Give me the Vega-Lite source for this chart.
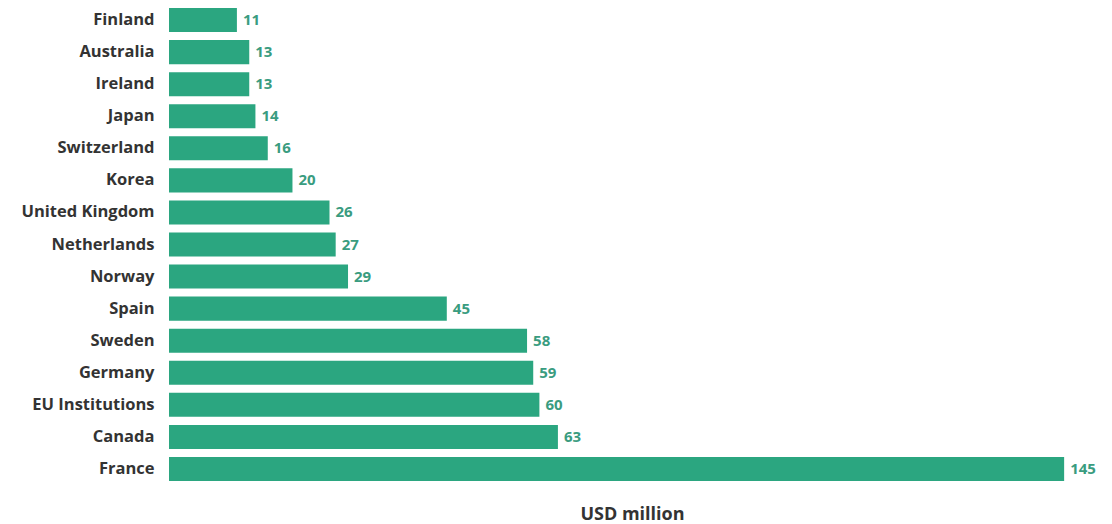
{
  "$schema": "https://vega.github.io/schema/vega-lite/v6.json",
  "autosize": {"type": "none"},
  "padding": {"left": 169, "top": 4, "right": 17, "bottom": 39},
  "width": 926,
  "height": 481,
  "background": "white",
  "config": {"view": {"stroke": null}, "font": "Open Sans"},
  "data": {"values": [
    {"country": "Finland", "value": 11},
    {"country": "Australia", "value": 13},
    {"country": "Ireland", "value": 13},
    {"country": "Japan", "value": 14},
    {"country": "Switzerland", "value": 16},
    {"country": "Korea", "value": 20},
    {"country": "United Kingdom", "value": 26},
    {"country": "Netherlands", "value": 27},
    {"country": "Norway", "value": 29},
    {"country": "Spain", "value": 45},
    {"country": "Sweden", "value": 58},
    {"country": "Germany", "value": 59},
    {"country": "EU Institutions", "value": 60},
    {"country": "Canada", "value": 63},
    {"country": "France", "value": 145}
  ]},
  "encoding": {
    "y": {"field": "country", "type": "nominal", "sort": null,
      "scale": {"paddingInner": 0.25, "paddingOuter": 0.125},
      "axis": {"title": null, "ticks": false, "domain": false, "labelPadding": 15,
        "labelFont": "Open Sans", "labelFontWeight": "bold", "labelFontSize": 16.5, "labelColor": "#333333"}},
    "x": {"field": "value", "type": "quantitative", "scale": {"domain": [0, 150], "nice": false},
      "axis": {"title": "USD million", "titleFont": "Open Sans", "titleFontSize": 18, "titleFontWeight": "bold",
        "titleColor": "#333333", "titlePadding": 20, "labels": false, "ticks": false, "domain": false, "grid": false}}
  },
  "layer": [
    {"mark": {"type": "bar", "color": "#2ba680"}},
    {"mark": {"type": "text", "align": "left", "dx": 6, "font": "Open Sans", "fontWeight": "bold", "fontSize": 15, "color": "#3a9c80"},
      "encoding": {"text": {"field": "value", "type": "quantitative"}}}
  ]
}
